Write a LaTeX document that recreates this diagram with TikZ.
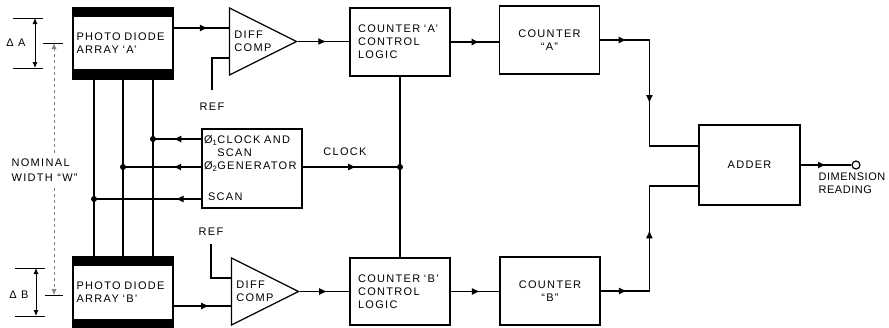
\documentclass[tikz,border=0pt]{standalone}
\usepackage{fontspec}
\setmainfont{Liberation Sans}[LetterSpace=12]
\usetikzlibrary{arrows.meta, positioning, calc, shapes.geometric, decorations.markings}

\begin{document}
\begin{tikzpicture}[
    x=1pt, y=-1pt,
    font=\fontsize{11}{13}\selectfont,
    line width=1.2pt,
    blk/.style={draw, line width=1.2pt, minimum width=100pt, inner sep=0pt},
    pda/.style={blk, minimum height=71pt, line width=1.4pt, text width=93pt, align=left},
    cmp/.style={draw, isosceles triangle, isosceles triangle stretches, minimum width=67pt, minimum height=67pt, inner sep=0pt, line width=1.2pt},
    lbl/.style={align=left, inner sep=0pt},
    dot/.style={circle, fill, inner sep=0pt, minimum size=6pt},
    arr/.style={postaction={decorate, decoration={markings, mark=at position #1 with {\arrow{Latex[length=8pt, width=7pt]}}}}},
    dim/.style={line width=0.8pt, {Latex[length=6pt, width=5pt]}-{Latex[length=6pt, width=5pt]}},
    guide/.style={line width=0.5pt, draw=gray, dashed, -{Latex[length=6pt, width=5pt]}},
    tick/.style={line width=0.9pt}
]
\useasboundingbox (0,0) rectangle (889,327);

% photo diode arrays
\node[pda] (arrA) at (123,43.5) {PHOTO DIODE\\ARRAY `A'};
\fill (arrA.north west) rectangle ($(arrA.north east)+(0pt,-10pt)$);
\fill ($(arrA.south west)+(0pt,11pt)$) rectangle (arrA.south east);
\node[pda] (arrB) at (123,292.5) {PHOTO DIODE\\ARRAY `B'};
\fill (arrB.north west) rectangle ($(arrB.north east)+(0pt,-10pt)$);
\fill ($(arrB.south west)+(0pt,10pt)$) rectangle (arrB.south east);

% comparators
\node[cmp, anchor=apex] (cmpA) at (298,41.5) {};
\node[lbl, anchor=west] (cmpAtxt) at ($(cmpA.west)+(5pt,0pt)$) {DIFF\\COMP};
\node[cmp, anchor=apex] (cmpB) at (300,291.5) {};
\node[lbl, anchor=west] (cmpBtxt) at ($(cmpB.west)+(5pt,0pt)$) {DIFF\\COMP};
\node[lbl] (refA) at (212,107) {REF};
\node[lbl] (refB) at (211,232) {REF};

% control logic and counters
\node[blk, minimum height=68pt, text width=84pt, align=left] (ctlA) at (400,42) {COUNTER `A'\\CONTROL\\LOGIC};
\node[blk, minimum height=67pt, text width=84pt, align=left] (ctlB) at (400,291.5) {COUNTER `B'\\CONTROL\\LOGIC};
\node[blk, minimum height=68pt, align=center] (cntA) at (549.5,40) {COUNTER\\``A''};
\node[blk, minimum height=68pt, align=center] (cntB) at (550,291) {COUNTER\\``B''};
\node[blk, minimum width=101pt, minimum height=80pt] (add) at (749.5,165) {ADDER};
\node[circle, draw, line width=1.2pt, minimum size=8pt, inner sep=0pt] (outc) at (856,165) {};
\node[lbl, anchor=north west, font=\fontsize{11}{13}\selectfont\addfontfeature{LetterSpace=5}] (dimtxt) at (818,172) {DIMENSION\\READING};

% clock and scan generator
\node[blk, minimum height=79pt, text width=96pt, align=left] (gen) at (252,168.5) {%
    Ø\textsubscript{1}CLOCK AND\\
    \phantom{Ø\textsubscript{1}}SCAN\\
    Ø\textsubscript{2}GENERATOR\\[18pt]
    \hspace{4pt}SCAN};
\node[lbl] (clk) at (345,152) {CLOCK};

\coordinate (g1) at ($(gen.west)+(0pt,29.5pt)$);
\coordinate (g2) at ($(gen.west)+(0pt,1.5pt)$);
\coordinate (g3) at ($(gen.west)+(0pt,-30.5pt)$);
\coordinate (v1) at ($(arrA.south)+(-29pt,0pt)$);
\coordinate (v2) at (arrA.south);
\coordinate (v3) at ($(arrA.south)+(30pt,0pt)$);

\draw (v1) -- (v1 |- arrB.north);
\draw (v2) -- (v2 |- arrB.north);
\draw (v3) -- (v3 |- arrB.north);
\node[dot] (d1) at (g1 -| v3) {};
\node[dot] (d2) at (g2 -| v2) {};
\node[dot] (d3) at (g3 -| v1) {};
\draw[arr=0.58] (g1) -- (d1.center);
\draw[arr=0.36] (g2) -- (d2.center);
\draw[arr=0.24] (g3) -- (d3.center);

\node[dot] (dc) at (g2 -| ctlA.south) {};
\draw[arr=0.55] (gen.east |- g2) -- (dc.center);
\draw (ctlA.south) -- (ctlB.north);

% signal path A
\coordinate (oA) at ($(arrA.east)+(0pt,15.5pt)$);
\draw[arr=0.62] (oA) -- (oA -| cmpA.west);
\draw ($(refA.north)+(0pt,13pt)$) |- ($(cmpA.west)+(0pt,-16.5pt)$);
\draw[arr=0.55] (cmpA.apex) -- (cmpA.apex -| ctlA.west);
\draw[arr=0.6] (ctlA.east) -- (ctlA.east -| cntA.west);
\coordinate (jA) at ($(add.west)+(-49pt,19pt)$);
\draw[arr=0.13, arr=0.55] (cntA.east) -| (jA) -- (jA -| add.west);

% signal path B
\coordinate (oB) at ($(arrB.east)+(0pt,-13.5pt)$);
\draw[arr=0.62] (oB) -- (oB -| cmpB.west);
\draw ($(refB.south)+(0pt,-8pt)$) |- ($(cmpB.west)+(0pt,13.5pt)$);
\draw[arr=0.55] (cmpB.apex) -- (cmpB.apex -| ctlB.west);
\draw[arr=0.6] (ctlB.east) -- (ctlB.east -| cntB.west);
\coordinate (jB) at ($(add.west)+(-49pt,-21pt)$);
\draw[arr=0.13, arr=0.54] (cntB.east) -| (jB) -- (jB -| add.west);

\draw[arr=0.5] (add.east) -- (outc.west);

% dimensions
\draw[tick] (13,18) -- (43,18);
\draw[tick] (13,68) -- (43,68);
\draw[dim] (35,18) -- (35,68);
\node[lbl] (dA) at (16,43) {Δ A};
\draw[tick] (43,43) -- (63,43);
\node[lbl, anchor=west] (nom) at (11,170) {NOMINAL\\[2pt]WIDTH ``W''};
\draw[guide] (54,153) -- (54,43);
\draw[guide] (54,188) -- (54,295);
\draw[tick] (45,295) -- (63,295);
\draw[tick] (15,268) -- (45,268);
\draw[tick] (15,316) -- (45,316);
\draw[dim] (36,268) -- (36,316);
\node[lbl] (dB) at (19,295) {Δ B};

\end{tikzpicture}
\end{document}
